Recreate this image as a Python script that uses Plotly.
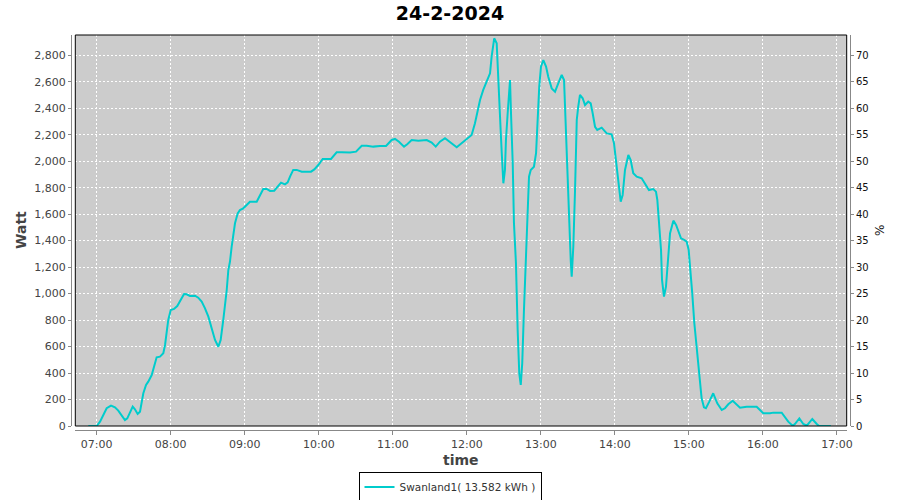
import plotly.graph_objects as go

DATE = "2024-02-24"
title_text = "24-2-2024"
series_name = "Swanland1( 13.582 kWh )"

times = [
    "06:53:12", "07:00:00", "07:02:42", "07:05:18", "07:08:06", "07:11:36", "07:14:48", "07:17:30",
    "07:20:18", "07:22:54", "07:24:48", "07:27:00", "07:29:12", "07:31:00", "07:33:12", "07:35:06",
    "07:36:30", "07:37:48", "07:40:00", "07:41:48", "07:44:36", "07:46:24", "07:48:36", "07:51:18",
    "07:54:00", "07:55:24", "07:56:42", "07:58:00", "08:00:00", "08:02:42", "08:05:18", "08:08:06",
    "08:10:48", "08:12:54", "08:15:36", "08:19:42", "08:22:18", "08:25:06", "08:27:48", "08:30:30",
    "08:33:12", "08:35:54", "08:38:36", "08:40:30", "08:42:36", "08:44:00", "08:45:24", "08:46:42",
    "08:48:00", "08:49:24", "08:50:42", "08:52:06", "08:54:18", "08:56:06", "08:58:48", "09:01:36",
    "09:04:12", "09:09:42", "09:12:24", "09:15:00", "09:17:48", "09:20:30", "09:23:54", "09:26:42",
    "09:29:24", "09:32:36", "09:34:48", "09:36:42", "09:39:18", "09:42:06", "09:46:12", "09:53:42",
    "09:56:24", "09:59:36", "10:03:12", "10:09:54", "10:13:06", "10:14:30", "10:18:36", "10:25:18",
    "10:30:12", "10:34:48", "10:38:48", "10:44:12", "10:49:36", "10:54:30", "10:59:06", "11:01:48",
    "11:05:00", "11:09:06", "11:11:42", "11:15:18", "11:20:42", "11:27:30", "11:31:30", "11:34:48",
    "11:38:12", "11:42:18", "11:51:48", "11:59:54", "12:03:54", "12:06:36", "12:10:42", "12:13:18",
    "12:16:06", "12:18:48", "12:20:06", "12:22:12", "12:24:12", "12:25:30", "12:26:18", "12:27:24",
    "12:28:18", "12:29:36", "12:30:54", "12:31:42", "12:33:06", "12:34:12", "12:35:00", "12:35:48",
    "12:37:12", "12:38:12", "12:39:48", "12:41:12", "12:42:30", "12:43:42", "12:44:54", "12:46:18",
    "12:47:42", "12:49:00", "12:50:24", "12:51:48", "12:54:24", "12:56:06", "12:57:06", "12:58:42",
    "13:00:06", "13:02:00", "13:04:12", "13:06:00", "13:08:48", "13:11:30", "13:14:06", "13:16:54",
    "13:18:48", "13:19:36", "13:20:24", "13:21:24", "13:22:12", "13:23:00", "13:24:12", "13:25:00",
    "13:26:18", "13:27:42", "13:28:30", "13:29:06", "13:30:18", "13:31:42", "13:33:54", "13:35:48",
    "13:38:24", "13:40:24", "13:42:00", "13:43:54", "13:45:42", "13:49:18", "13:53:24", "13:57:24",
    "13:59:18", "14:00:54", "14:02:48", "14:04:42", "14:06:18", "14:08:12", "14:10:54", "14:12:48",
    "14:14:54", "14:17:42", "14:21:42", "14:24:24", "14:27:36", "14:31:06", "14:33:18", "14:34:24",
    "14:36:00", "14:37:24", "14:38:12", "14:39:48", "14:41:24", "14:42:48", "14:43:54", "14:44:42",
    "14:46:06", "14:47:24", "14:49:36", "14:51:24", "14:53:36", "14:56:06", "14:58:12", "14:59:48",
    "15:01:24", "15:02:42", "15:04:24", "15:06:18", "15:07:36", "15:09:00", "15:10:18", "15:12:12",
    "15:13:48", "15:16:30", "15:19:42", "15:23:00", "15:26:36", "15:29:12", "15:31:54", "15:35:30",
    "15:38:42", "15:41:24", "15:46:48", "15:54:54", "15:57:36", "16:00:18", "16:05:42", "16:08:24",
    "16:15:12", "16:17:48", "16:20:30", "16:24:06", "16:25:54", "16:29:30", "16:32:42", "16:35:30",
    "16:40:00", "16:43:36", "16:45:24", "16:55:06",
]

watt = [
    0, 0, 33, 83, 134, 154, 141, 116,
    76, 45, 58, 108, 146, 126, 91, 108,
    171, 247, 310, 335, 385, 448, 519, 524,
    549, 612, 700, 801, 876, 884, 906, 957,
    997, 995, 982, 984, 969, 939, 889, 826,
    738, 650, 599, 650, 801, 901, 1027, 1178,
    1240, 1354, 1455, 1531, 1606, 1631, 1644, 1669,
    1694, 1694, 1745, 1790, 1790, 1775, 1777, 1808,
    1838, 1825, 1840, 1883, 1934, 1934, 1921, 1921,
    1938, 1971, 2017, 2017, 2052, 2067, 2067, 2065,
    2072, 2117, 2117, 2110, 2115, 2115, 2160, 2168,
    2147, 2110, 2128, 2160, 2155, 2160, 2140, 2110,
    2147, 2173, 2105, 2165, 2198, 2286, 2462, 2538,
    2600, 2664, 2789, 2928, 2890, 2664, 2462, 2236,
    2062, 1833, 1934, 2160, 2362, 2563, 2613, 2364,
    1984, 1533, 1231, 725, 398, 310, 473, 876,
    1229, 1606, 1883, 1934, 1958, 2060, 2286, 2563,
    2714, 2764, 2714, 2638, 2550, 2525, 2588, 2651,
    2613, 2412, 2185, 1934, 1682, 1455, 1254, 1128,
    1354, 1782, 2034, 2311, 2412, 2500, 2475, 2424,
    2450, 2437, 2362, 2260, 2236, 2253, 2210, 2203,
    2135, 2009, 1833, 1694, 1745, 1934, 2047, 2009,
    1909, 1883, 1871, 1833, 1782, 1790, 1770, 1707,
    1480, 1329, 1103, 977, 1052, 1229, 1329, 1455,
    1505, 1551, 1518, 1468, 1418, 1405, 1392, 1329,
    1178, 1002, 776, 574, 448, 322, 209, 141,
    134, 184, 247, 171, 121, 134, 164, 191,
    159, 138, 146, 146, 121, 96, 96, 101,
    101, 70, 33, 2, 15, 58, 15, 2,
    53, 15, 0, 0,
]

x_range = ["06:42:40", "17:07:53"]
watt_max = 2953
pct_per_watt = 1 / 40.0

xs = [f"{DATE} {t}" for t in times]

# layout geometry (paper coordinates)
ML, MR, MT, MB = 71, 50, 35, 70
W, H = 900, 500
PW, PH = W - ML - MR, H - MT - MB
def px_x(p):
    return (p - ML) / PW
def px_y(p):
    return (H - MB - p) / PH

xd = [px_x(75.3), px_x(846.7)]
yd = [px_y(426), 1.0]

fig = go.Figure()
fig.add_trace(go.Scatter(
    x=xs, y=watt, mode="lines", name=series_name,
    line=dict(color="#00CCCC", width=2), yaxis="y",
))
fig.add_trace(go.Scatter(
    x=[xs[0]], y=[0], mode="lines", yaxis="y2", showlegend=False,
    hoverinfo="skip", line=dict(width=0, color="rgba(0,0,0,0)"),
))

font_main = "DejaVu Sans"
grid = dict(showgrid=True, gridcolor="white", gridwidth=1, griddash="2px,2px", zeroline=False)

fig.update_layout(
    width=W, height=H,
    margin=dict(l=ML, r=MR, t=MT, b=MB, autoexpand=False),
    paper_bgcolor="white", plot_bgcolor="#CCCCCC",
    font=dict(family=font_main, size=11, color="#444444"),
    title=dict(text=title_text, x=0.5, xref="container", xanchor="center",
               y=1 - 13.7 / H, yref="container", yanchor="middle",
               font=dict(family=font_main, size=19, color="black", weight="bold")),
    xaxis=dict(
        type="date", domain=xd, anchor="free", position=0,
        range=[f"{DATE} {x_range[0]}", f"{DATE} {x_range[1]}"],
        tick0=f"{DATE} 07:00:00", dtick=3600000, tickformat="%H:%M",
        showline=True, linecolor="#888888", linewidth=1,
        ticks="outside", ticklen=4, tickcolor="#888888",
        tickfont=dict(size=11, color="#444444"),
        **grid,
    ),
    yaxis=dict(
        domain=yd, anchor="free", position=0,
        range=[0, watt_max], dtick=200, tickformat=",d",
        showline=True, linecolor="#888888", linewidth=1,
        ticks="outside", ticklen=3, tickcolor="#888888",
        tickfont=dict(size=11, color="#444444"),
        **grid,
    ),
    yaxis2=dict(
        overlaying="y", side="right", anchor="free", position=1,
        range=[0, watt_max * pct_per_watt], dtick=5,
        showgrid=False, zeroline=False,
        showline=True, linecolor="#888888", linewidth=1,
        ticks="outside", ticklen=3, tickcolor="#888888",
        tickfont=dict(size=10, color="#111111"),
    ),
    showlegend=True,
    legend=dict(
        orientation="h", x=px_x(450), xanchor="center", y=px_y(487), yanchor="middle",
        bordercolor="black", borderwidth=1, bgcolor="white",
        font=dict(family=font_main, size=10.5, color="#333333"),
        itemwidth=30,
    ),
    shapes=[dict(type="rect", xref="paper", yref="paper",
                 x0=xd[0], x1=xd[1], y0=yd[0], y1=yd[1],
                 line=dict(color="black", width=1), layer="above")],
    annotations=[
        dict(text="Watt", xref="paper", yref="paper", x=px_x(21), y=px_y(230),
             textangle=-90, showarrow=False, xanchor="center", yanchor="middle",
             font=dict(family=font_main, size=14, color="#444444", weight="bold")),
        dict(text="time", xref="paper", yref="paper", x=px_x(461), y=px_y(460),
             showarrow=False, xanchor="center", yanchor="middle",
             font=dict(family=font_main, size=14, color="#444444", weight="bold")),
        dict(text="%", xref="paper", yref="paper", x=px_x(880), y=px_y(231),
             textangle=-90, showarrow=False, xanchor="center", yanchor="middle",
             font=dict(family=font_main, size=12, color="#111111")),
    ],
)

fig.write_html("out.html", config={"displayModeBar": False},
               post_script="document.body.style.margin='0px';")
